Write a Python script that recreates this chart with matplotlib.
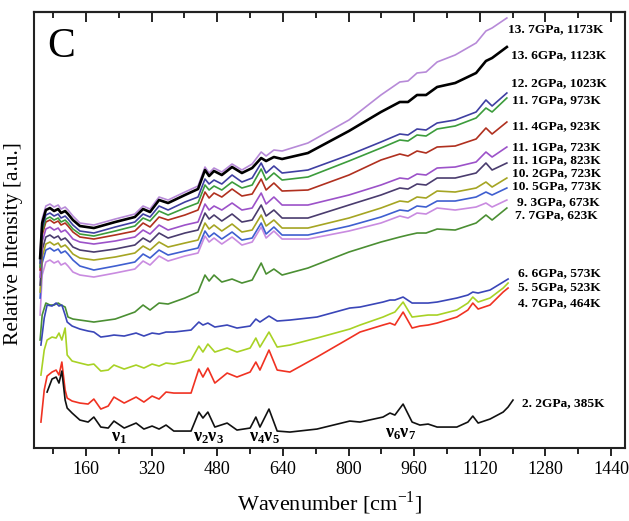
import numpy as np
import matplotlib
matplotlib.use('Agg')
import matplotlib.pyplot as plt
from matplotlib.ticker import MultipleLocator

plt.rcParams['font.family'] = ['Liberation Serif', 'DejaVu Serif']
plt.rcParams['mathtext.fontset'] = 'custom'
plt.rcParams['mathtext.rm'] = 'Liberation Serif'
plt.rcParams['mathtext.bf'] = 'Liberation Serif:bold'

nan = np.nan

# wavenumber grid for the eleven upper spectra (cm-1)
wn_hi = [48, 53, 62, 72, 82, 92, 99, 109, 116, 128, 145, 179, 231, 279, 299, 316, 338, 360,
         401, 433, 450, 460, 472, 491, 516, 540, 565, 587, 599, 618, 638, 701, 801, 879,
         925, 945, 967, 989, 1016, 1060, 1111, 1135, 1150, 1186]

purple_137 = [194, 229, 242, 244, 241, 243, 239, 241, 238, 232, 225, 223, 229, 234, 242, 239, 251, 248,
              256, 262, 281, 275, 280, 276, 284, 278, 284, 296, 292, 298, 297, 305, 328, 353,
              366, 367, 375, 376, 386, 393, 405, 417, 420, 430]
black_136 = [190, 225, 238, 240, 237, 239, 235, 237, 234, 228, 222, 220, 226, 231, 239, 236, 248, 245,
             253, 259, 278, 272, 277, 273, 281, 275, 280, 290, 287, 291, 289, 295, 317, 336,
             346, 346, 353, 353, 361, 365, 375, 387, 390, 401]
navy_122 = [185, 220, 233, 235, 232, 234, 230, 232, 229, 223, 217, 215, 221, 226, 234, 231, 242, 238,
            246, 251, 269, 264, 268, 264, 273, 266, 270, 285, 275, 282, 275, 278, 293, 306,
            314, 313, 319, 318, 325, 328, 336, 348, 342, 355]
green_117 = [181, 216, 229, 231, 228, 230, 226, 228, 225, 219, 214, 212, 217, 222, 230, 227, 237, 233,
             240, 245, 263, 258, 262, 258, 266, 260, 263, 279, 268, 275, 268, 271, 287, 300,
             308, 307, 313, 312, 319, 322, 330, 340, 336, 350]
brown_114 = [178, 213, 226, 228, 225, 227, 223, 225, 222, 216, 211, 209, 213, 217, 225, 221, 231, 228,
             233, 238, 256, 250, 255, 251, 259, 252, 254, 269, 258, 265, 257, 258, 273, 288,
             294, 292, 297, 295, 301, 302, 309, 320, 314, 326]
violet_111a = [171, 206, 219, 221, 218, 220, 216, 218, 215, 209, 206, 204, 207, 211, 218, 214, 223, 218,
               223, 226, 244, 238, 242, 238, 245, 238, 240, 255, 244, 251, 243, 243, 253, 263,
               270, 269, 274, 273, 280, 281, 286, 296, 291, 301]
slate_111b = [163, 198, 211, 213, 210, 212, 208, 210, 207, 201, 198, 196, 199, 203, 210, 206, 215, 210,
              215, 218, 235, 229, 233, 227, 234, 226, 228, 243, 232, 238, 230, 230, 243, 253,
              260, 259, 264, 263, 270, 270, 275, 285, 278, 285]
olive_102 = [156, 191, 204, 206, 203, 205, 201, 203, 200, 194, 190, 188, 191, 195, 202, 198, 206, 201,
             205, 208, 225, 219, 223, 217, 224, 216, 218, 233, 222, 228, 220, 220, 230, 240,
             247, 246, 251, 250, 257, 256, 260, 266, 261, 270]
blue_105 = [150, 185, 198, 200, 197, 199, 195, 197, 194, 188, 182, 178, 182, 186, 194, 190, 198, 193,
            197, 200, 217, 211, 215, 209, 216, 208, 210, 225, 214, 221, 213, 213, 222, 231,
            238, 237, 242, 241, 247, 247, 251, 256, 253, 260]
pink_93 = [133, 173, 186, 188, 185, 187, 183, 185, 182, 176, 173, 171, 175, 179, 187, 183, 192, 187,
           192, 195, 212, 206, 210, 204, 211, 203, 206, 221, 210, 217, 209, 209, 217, 225,
           232, 230, 235, 234, 240, 238, 241, 245, 241, 248]
green_77 = [108, 133, 145, 143, 143, 145, 143, 141, 131, 129, 128, 126, 129, 136, 143, 138, 145, 144,
            150, 156, 173, 167, 173, 166, 169, 165, 168, 185, 174, 179, 173, 180, 196, 206,
            211, 213, 215, 215, 219, 218, 225, 233, 228, 240]

# wavenumber grid for the four lower spectra (cm-1)
wn_lo = [50, 58, 65, 77, 87, 94, 101, 109, 114, 126, 145, 165, 179, 196, 214, 228, 253, 282, 301,
         321, 338, 355, 374, 416, 435, 445, 457, 474, 504, 528, 560, 574, 584, 606, 626, 657,
         723, 803, 828, 884, 901, 913, 933, 955, 974, 994, 1016, 1064, 1091, 1103, 1116, 1145,
         1177, 1189, 1201]

blue_66 = [103, 130, 143, 142, 145, 142, 143, 133, 126, 122, 119, 117, 116, 111, 112, 113, 112, 115, 112,
           115, 114, 116, 116, 118, 126, 123, 125, 121, 123, 120, 122, 129, 126, 132, 127, 128,
           131, 140, 141, 146, 148, 148, 151, 145, 145, 145, 146, 150, 153, 156, 155, 158,
           166, 169, nan]
yellow_55 = [73, 98, 108, 111, 110, 115, 108, 120, 93, 87, 85, 83, 84, 77, 78, 83, 79, 83, 80,
             84, 82, 85, 84, 88, 102, 96, 104, 96, 100, 96, 100, 110, 101, 116, 101, 103,
             110, 119, 123, 131, 134, 136, 146, 131, 132, 133, 133, 138, 145, 151, 146, 150,
             160, 165, nan]
red_47 = [26, 58, 72, 76, 78, 73, 86, 58, 50, 47, 45, 44, 49, 39, 42, 51, 45, 51, 46,
          52, 49, 56, 55, 55, 79, 71, 80, 65, 75, 71, 76, 86, 78, 98, 78, 76,
          91, 110, 116, 123, 125, 123, 136, 120, 122, 123, 125, 131, 138, 145, 139, 143,
          156, 160, nan]
black_22 = [nan, nan, 56, 69, 71, 65, 77, 48, 40, 35, 28, 26, 31, 21, 20, 27, 20, 25, 19,
            22, 19, 23, 17, 17, 36, 30, 36, 21, 25, 18, 20, 31, 21, 39, 17, 16,
            19, 27, 26, 31, 35, 33, 44, 26, 23, 24, 21, 21, 26, 32, 25, 29,
            36, 41, 48]

labels = ['13. 7GPa, 1173K', '13. 6GPa, 1123K', '12. 2GPa, 1023K', '11. 7GPa, 973K',
          '11. 4GPa, 923K', '11. 1GPa, 723K', '11. 1GPa, 823K', '10. 2GPa, 723K',
          '10. 5GPa, 773K', '9. 3GPa, 673K', '7. 7GPa, 623K',
          '6. 6GPa, 573K', '5. 5GPa, 523K', '4. 7GPa, 464K', '2. 2GPa, 385K']

fig = plt.figure(figsize=(6.29, 5.21), dpi=100)
ax = fig.add_axes([0.054, 0.140, 0.9396, 0.837])

upper = [(pink_93, '#c98be0'), (blue_105, '#3f5fd0'), (olive_102, '#a5a523'),
         (slate_111b, '#4a3c6e'), (violet_111a, '#9c52c9'), (brown_114, '#b0301f'),
         (green_117, '#3c9c3c'), (navy_122, '#3f3fa2'), (purple_137, '#b78ad8'),
         (green_77, '#4b8f33')]
for vals, c in upper:
    ax.plot(wn_hi, vals, color=c, lw=1.2)
ax.plot(wn_hi, black_136, color='black', lw=1.9)

lower = [(blue_66, '#3a46b8'), (yellow_55, '#a8d225'), (red_47, '#f03222'), (black_22, '#111111')]
for vals, c in lower:
    ax.plot(wn_lo, vals, color=c, lw=1.2)

# curve labels (data coords)
lab_x = [1189, 1196, 1196, 1198, 1198, 1198, 1198, 1198, 1198, 1211, 1206, 1213, 1213, 1213, 1223]
lab_y = [419, 393, 365, 348, 322, 301, 288, 275, 262, 246, 233, 175, 161, 145, 45]
for t, x, y in zip(labels, lab_x, lab_y):
    ax.text(x, y, t, fontsize=9.6, fontweight='bold', va='center', ha='left')

for t, x, y in [(r'$\mathbf{\nu_1}$', 241, 11), (r'$\mathbf{\nu_2\nu_3}$', 458, 11),
                (r'$\mathbf{\nu_4\nu_5}$', 596, 11), (r'$\mathbf{\nu_6\nu_7}$', 928, 15)]:
    ax.text(x, y, t, fontsize=13, ha='center', va='center')

ax.text(65, 401, 'C', fontsize=30, va='center', ha='left')

ax.set_xlim(33, 1474)
ax.set_ylim(0, 436)
ax.set_xticks(range(160, 1441, 160))
ax.xaxis.set_minor_locator(MultipleLocator(80))
ax.set_yticks([])
ax.tick_params(axis='x', which='major', direction='out', length=6, width=1.2, labelsize=13)
ax.tick_params(axis='x', which='minor', direction='out', length=4, width=1.2)

top = ax.secondary_xaxis('top')
top.set_xticks(range(160, 1441, 160))
top.xaxis.set_minor_locator(MultipleLocator(80))
top.tick_params(which='major', direction='in', length=7, width=1.2, labeltop=False)
top.tick_params(which='minor', direction='in', length=4, width=1.2)
top.spines['top'].set_linewidth(1.5)

for s in ax.spines.values():
    s.set_linewidth(1.5)
    s.set_color('#222222')

ax.set_xlabel(r'Wavenumber [cm$^{\mathregular{-1}}$]', fontsize=16, labelpad=8)
ax.set_ylabel('Relative Intensity [a.u.]', fontsize=15.5)
ax.yaxis.set_label_coords(-0.018, 0.47)

fig.savefig('out.png', dpi=100)
